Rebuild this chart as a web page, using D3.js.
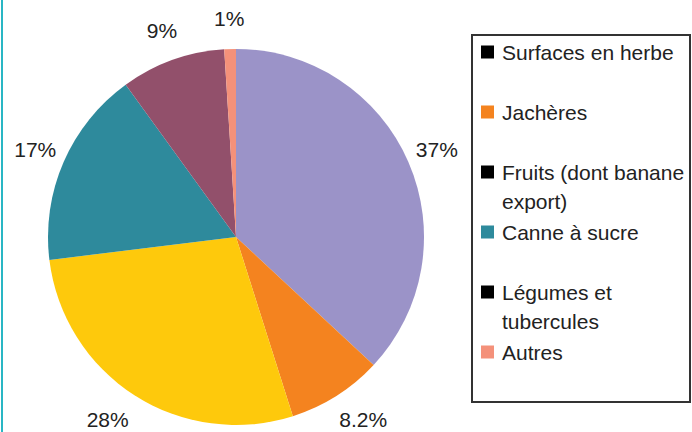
<!DOCTYPE html>
<html>
<head>
<meta charset="utf-8">
<script src="https://cdn.jsdelivr.net/npm/d3@7"></script>
<style>
  body { margin: 0; background: #fff; }
  svg { display: block; font-family: "Liberation Sans", Arial, sans-serif; }
</style>
</head>
<body>
<div id="chart"></div>
<script>
// Data
let categories = ["Surfaces en herbe", "Jachères", "Fruits (dont banane export)", "Canne à sucre", "Légumes et tubercules", "Autres"];
let values = [37, 8.2, 28, 17, 9, 1];
let valueLabels = ["37%", "8.2%", "28%", "17%", "9%", "1%"];
let sliceColors = ["#9b93c8", "#f4831f", "#fec90c", "#2e8a9c", "#92506b", "#f4917a"];
let legendColors = ["#000000", "#f4831f", "#000000", "#2e8a9c", "#000000", "#f4917a"];
let legendLines = [["Surfaces en herbe"], ["Jachères"], ["Fruits (dont banane", "export)"], ["Canne à sucre"], ["Légumes et", "tubercules"], ["Autres"]];

let width = 692;
let height = 432;
let cx = 236, cy = 237, radius = 188;

let svg = d3.select("#chart").append("svg")
    .attr("width", width)
    .attr("height", height);

// left teal rule
svg.append("rect")
    .attr("x", 1).attr("y", 0)
    .attr("width", 2).attr("height", height)
    .attr("fill", "#29b6c4");

let data = categories.map((c, i) => ({ name: c, value: values[i], label: valueLabels[i], i: i }));

let pie = d3.pie().sort(null).value(d => d.value);
let arc = d3.arc().innerRadius(0).outerRadius(radius);
let labelArc = d3.arc().innerRadius(219).outerRadius(219);

let g = svg.append("g").attr("transform", `translate(${cx},${cy})`);
let arcs = pie(data);

g.selectAll("path")
    .data(arcs)
    .join("path")
    .attr("d", arc)
    .attr("fill", d => sliceColors[d.data.i]);

// labels; lower ones pushed a little sideways and kept inside the frame
g.selectAll("text")
    .data(arcs)
    .join("text")
    .attr("transform", d => {
        let [x, y] = labelArc.centroid(d);
        if (y > 150) x += x > 0 ? 10 : -10;
        y = Math.min(y, 182);
        return `translate(${x},${y})`;
    })
    .attr("text-anchor", "middle")
    .attr("dominant-baseline", "central")
    .style("font-size", "21px")
    .style("fill", "#222")
    .text(d => d.data.label);

// Legend
let legend = svg.append("g");
legend.append("rect")
    .attr("x", 472).attr("y", 35)
    .attr("width", 218).attr("height", 367)
    .attr("fill", "#fff")
    .attr("stroke", "#333")
    .attr("stroke-width", 2);

let rowY = d3.scaleLinear().domain([0, 5]).range([52, 352]);

legendLines.forEach((lines, i) => {
    let y = rowY(i);
    legend.append("rect")
        .attr("x", 481).attr("y", y - 6.5)
        .attr("width", 13).attr("height", 13)
        .attr("fill", legendColors[i]);
    lines.forEach((line, j) => {
        legend.append("text")
            .attr("x", 502)
            .attr("y", y + j * 29)
            .attr("dominant-baseline", "central")
            .style("font-size", "21px")
            .style("fill", "#222")
            .text(line);
    });
});
</script>
</body>
</html>
